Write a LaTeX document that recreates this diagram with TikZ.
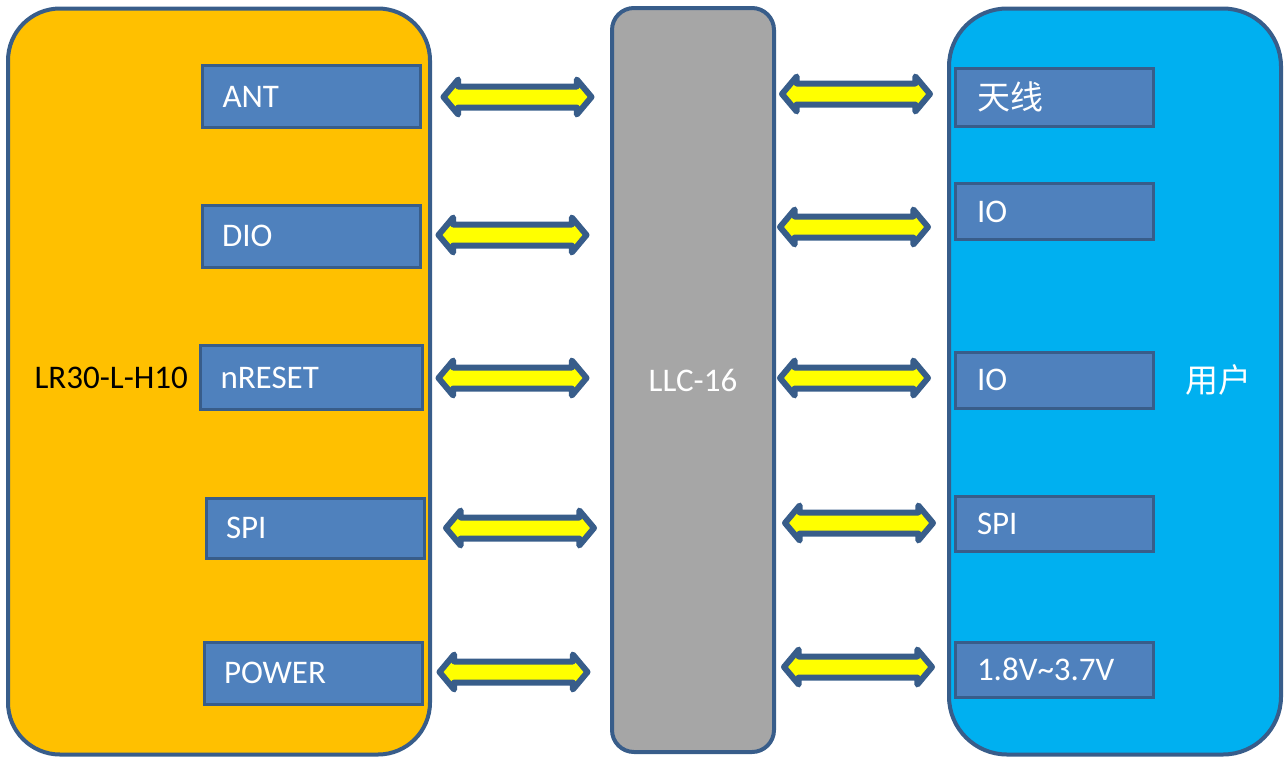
\documentclass[tikz,border=0pt]{standalone}
\usepackage{fontspec}
\setmainfont{Carlito}
\newfontfamily\cjk{Noto Sans CJK SC}
\usepackage{tikz}
\usetikzlibrary{shapes, arrows, positioning}

\definecolor{edge}{HTML}{385D8A}
\definecolor{modfill}{HTML}{FFC000}
\definecolor{llcfill}{HTML}{A6A6A6}
\definecolor{userfill}{HTML}{00B0F0}
\definecolor{pinfill}{HTML}{4F81BD}
\definecolor{arrfill}{HTML}{FFFF00}

\begin{document}
\begin{tikzpicture}[
            x=0.5pt, y=-0.5pt,
            font=\fontsize{16.5}{18}\selectfont,
            block/.style={draw=edge, line width=2pt, rounded corners=#1},
            pin/.style={draw=edge, fill=pinfill, line width=1.5pt, text=white, align=left, inner ysep=0pt},
            lpin/.style={pin, text width=89pt, inner xsep=10pt, minimum height=31pt},
            rpin/.style={pin, text width=77pt, inner xsep=11pt, minimum height=28pt},
            link/.style={double arrow, draw=edge, fill=arrfill, line width=3pt, line join=round,
                minimum height=74pt, inner sep=3.75pt, double arrow head extend=3.5pt,
                double arrow tip angle=100}
        ]
        \useasboundingbox (0,0) rectangle (1284,760);

        % three blocks
        \node[block=26pt, fill=modfill, minimum width=211pt, minimum height=373pt] (module) at (219,381.5) {};
        \node[block=11pt, fill=llcfill, minimum width=81pt, minimum height=372pt] (llc) at (693,380) {};
        \node[block=29pt, fill=userfill, minimum width=166pt, minimum height=373pt] (user) at (1115,381.5) {};

        \node[text=white] at (llc) {LLC-16};

        % module pins
        \node[lpin] (ant) at (311.5,96.5) {ANT};
        \node[lpin] (dio) at (311,236) {DIO};
        \node[lpin, minimum height=32pt, text width=91pt] (reset) at (311.5,377.5) {nRESET};
        \node[lpin, minimum height=30pt] (spi) at (315,528) {SPI};
        \node[lpin] (power) at (313,673) {POWER};
        \node[left=2pt of reset] (name) {LR30-L-H10};

        % user pins
        \node[rpin, minimum height=29pt] (antenna) at (1054,97) {\cjk 天线};
        \node[rpin] (io1) at (1054,211.5) {IO};
        \node[rpin] (io2) at (1054,380) {IO};
        \node[rpin, minimum height=27.5pt] (uspi) at (1054,523.5) {SPI};
        \node[rpin, minimum height=27.5pt] (vcc) at (1054,669.5) {1.8V\char`~3.7V};
        \node[right=12pt of io2, text=white] (usr) {\cjk 用户};

        % links
        \node[link] (l1) at (517.5,97) {};
        \node[link] (l2) at (512.5,235) {};
        \node[link] (l3) at (512.5,378) {};
        \node[link] (l4) at (520,528) {};
        \node[link] (l5) at (513.5,672) {};
        \node[link] (r1) at (856,94) {};
        \node[link] (r2) at (854,227) {};
        \node[link] (r3) at (854,378) {};
        \node[link] (r4) at (859,523) {};
        \node[link] (r5) at (858,667) {};

    \end{tikzpicture}
\end{document}
